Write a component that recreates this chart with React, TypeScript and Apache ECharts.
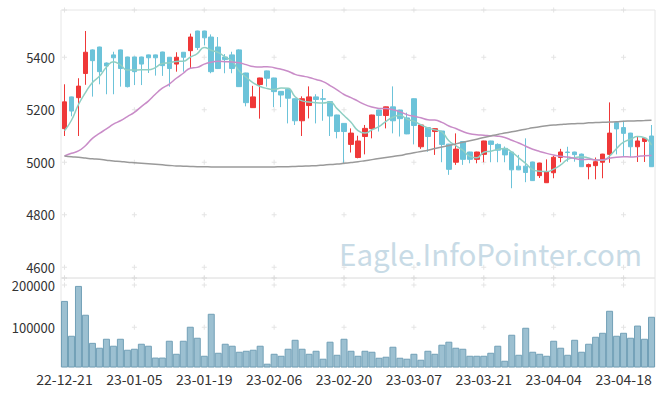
import React, { useEffect, useRef } from "react";
import * as echarts from "echarts";

const FONT = "'Noto Sans CJK KR', 'Noto Sans', sans-serif";

const dates = [
  "22-12-21", "22-12-22", "22-12-23", "22-12-26", "22-12-27", "22-12-28", "22-12-29", "23-01-02", "23-01-03", "23-01-04",
  "23-01-05", "23-01-06", "23-01-09", "23-01-10", "23-01-11", "23-01-12", "23-01-13", "23-01-16", "23-01-17", "23-01-18",
  "23-01-19", "23-01-20", "23-01-25", "23-01-26", "23-01-27", "23-01-30", "23-01-31", "23-02-01", "23-02-02", "23-02-03",
  "23-02-06", "23-02-07", "23-02-08", "23-02-09", "23-02-10", "23-02-13", "23-02-14", "23-02-15", "23-02-16", "23-02-17",
  "23-02-20", "23-02-21", "23-02-22", "23-02-23", "23-02-24", "23-02-27", "23-02-28", "23-03-02", "23-03-03", "23-03-06",
  "23-03-07", "23-03-08", "23-03-09", "23-03-10", "23-03-13", "23-03-14", "23-03-15", "23-03-16", "23-03-17", "23-03-20",
  "23-03-21", "23-03-22", "23-03-23", "23-03-24", "23-03-27", "23-03-28", "23-03-29", "23-03-30", "23-03-31", "23-04-03",
  "23-04-04", "23-04-05", "23-04-06", "23-04-07", "23-04-10", "23-04-11", "23-04-12", "23-04-13", "23-04-14", "23-04-17",
  "23-04-18", "23-04-19", "23-04-20", "23-04-21", "23-04-24",
];

const opens = [
  5128, 5249, 5246, 5338, 5428, 5439, 5378, 5409, 5428, 5401,
  5401, 5401, 5409, 5409, 5420, 5400, 5374, 5419, 5425, 5500,
  5500, 5477, 5439, 5401, 5409, 5428, 5340, 5208, 5296, 5348,
  5321, 5270, 5278, 5242, 5158, 5216, 5249, 5242, 5231, 5180,
  5148, 5068, 5018, 5098, 5128, 5199, 5178, 5211, 5199, 5169,
  5242, 5059, 5132, 5117, 5119, 5069, 5000, 5079, 5039, 5011,
  5030, 5081, 5068, 5053, 5039, 4985, 4985, 5001, 4949, 4922,
  4960, 5018, 5039, 5039, 5031, 4983, 4987, 5000, 5030, 5151,
  5132, 5111, 5059, 5079, 5100,
];
const closes = [
  5230, 5195, 5290, 5419, 5387, 5345, 5367, 5398, 5357, 5288,
  5345, 5374, 5398, 5398, 5368, 5357, 5400, 5400, 5477, 5437,
  5474, 5345, 5357, 5391, 5357, 5288, 5227, 5249, 5321, 5320,
  5269, 5256, 5244, 5158, 5242, 5249, 5239, 5240, 5176, 5117,
  5117, 5111, 5081, 5129, 5180, 5178, 5211, 5158, 5166, 5108,
  5140, 5142, 5098, 5128, 5068, 4973, 5050, 5011, 5011, 5039,
  5081, 5068, 5046, 5028, 4971, 4971, 4961, 4930, 4997, 4963,
  5019, 5039, 5037, 5029, 4983, 4991, 5002, 5031, 5111, 5127,
  5110, 5059, 5081, 5091, 4983,
];
const lows = [
  5100, 5175, 5100, 5295, 5250, 5297, 5259, 5259, 5288, 5285,
  5294, 5294, 5340, 5330, 5329, 5288, 5345, 5345, 5358, 5428,
  5445, 5339, 5355, 5339, 5339, 5287, 5213, 5207, 5166, 5288,
  5210, 5210, 5148, 5142, 5100, 5167, 5148, 5158, 5100, 5091,
  4997, 5037, 5015, 5030, 5091, 5117, 5129, 5110, 5098, 5107,
  5068, 5051, 5040, 5028, 5000, 4952, 4990, 4990, 4996, 4996,
  5000, 5000, 5000, 5000, 4901, 4970, 4924, 4929, 4940, 4921,
  4939, 5000, 5002, 5002, 4982, 4935, 4935, 4939, 4998, 5030,
  5020, 5020, 5001, 5001, 4982,
];
const highs = [
  5297, 5250, 5320, 5500, 5430, 5440, 5380, 5421, 5429, 5402,
  5402, 5402, 5410, 5410, 5421, 5401, 5419, 5420, 5490, 5501,
  5501, 5487, 5477, 5412, 5421, 5430, 5341, 5291, 5322, 5349,
  5322, 5271, 5279, 5243, 5251, 5289, 5259, 5279, 5232, 5181,
  5149, 5129, 5101, 5142, 5181, 5200, 5212, 5289, 5200, 5189,
  5243, 5143, 5133, 5129, 5120, 5070, 5110, 5080, 5040, 5040,
  5082, 5082, 5072, 5060, 5040, 5028, 5091, 5002, 4998, 5011,
  5025, 5051, 5059, 5040, 5033, 4995, 5018, 5032, 5228, 5152,
  5158, 5112, 5098, 5094, 5142,
];
const volumes = [
  162500, 80100, 198000, 129800, 63300, 51800, 73000, 56500, 73000, 47000,
  49400, 61200, 56500, 28500, 28500, 68300, 37500, 68300, 101400, 75400,
  32800, 132100, 39900, 61200, 56500, 42300, 44600, 47000, 56500, 14000,
  37500, 32800, 49400, 70600, 49400, 37500, 44600, 25800, 66000, 35100,
  73000, 44600, 32800, 44600, 42300, 28100, 30500, 54100, 28100, 25800,
  37500, 23400, 44600, 37500, 58900, 66000, 51800, 49400, 32800, 32800,
  32800, 39900, 56500, 21000, 82500, 35100, 99000, 42300, 37500, 32800,
  68300, 51800, 35100, 70600, 42300, 61200, 77700, 87100, 139200, 80100,
  87100, 75400, 104200, 73000, 125000,
];

// Moving-average values read from the picture where earlier data is not shown
const ma5Lead = [5120, 5160, 5220, 5265];
const ma20Lead = [
  5024, 5034, 5043, 5063, 5091, 5110, 5127, 5145, 5158, 5174,
  5190, 5212, 5233, 5259, 5282, 5298, 5320, 5339, 5358,
];
const ma120 = [
  5024, 5021, 5019, 5016, 5013, 5011, 5008, 5005, 5003, 5000,
  4998, 4996, 4994, 4992, 4990, 4988, 4986, 4985, 4984, 4983,
  4983, 4982, 4982, 4982, 4982, 4982, 4982, 4982, 4982, 4982,
  4982, 4983, 4983, 4984, 4985, 4986, 4987, 4989, 4991, 4993,
  4996, 4999, 5002, 5006, 5010, 5014, 5018, 5022, 5026, 5031,
  5036, 5041, 5046, 5052, 5058, 5064, 5070, 5076, 5082, 5088,
  5094, 5100, 5106, 5111, 5116, 5121, 5126, 5131, 5135, 5139,
  5142, 5144, 5146, 5147, 5148, 5150, 5151, 5152, 5153, 5154,
  5156, 5157, 5158, 5159, 5160,
];

const priceMin = 4559;
const priceMax = 5580;
const priceTicks = [4559, 4600, 4800, 5000, 5200, 5400, 5580];
const volMin = 6200;
const volMax = 216700;
const volTicks = [100000, 200000, 216700];
const labelStep = 10;

function movingAverage(period: number, lead: number[]) {
  return closes.map((_, i) => {
    if (i < lead.length) return lead[i];
    let s = 0;
    for (let k = i - period + 1; k <= i; k++) s += closes[k];
    return Math.round((s / period) * 10) / 10;
  });
}

const PLUS = "path://M2,0H3V2H5V3H3V5H2V3H0V2H2Z";

export default function App() {
  const ref = useRef<HTMLDivElement>(null);
  useEffect(() => {
    document.body.style.margin = "0";
    if (!ref.current) return;
    const chart = echarts.init(ref.current, undefined, { renderer: "svg" });
    const candles = dates.map((_, i) => [opens[i], closes[i], lows[i], highs[i]]);
    const tickIdx = dates.map((_, i) => i).filter((i) => i % labelStep === 0);
    const crossMain: number[][] = [];
    const crossVol: number[][] = [];
    tickIdx.forEach((i) => {
      priceTicks.forEach((v) => crossMain.push([i, v]));
      volTicks.forEach((v) => crossVol.push([i, v]));
    });
    const noLine = { show: false };
    const lbl = { color: "#333", fontSize: 13, fontFamily: FONT, lineHeight: 14 };
    chart.setOption({
      animation: false,
      backgroundColor: "#ffffff",
      textStyle: { fontFamily: FONT },
      grid: [
        { left: 61, right: 10, top: 10, height: 268, show: true, borderColor: "#e6e6e6", borderWidth: 1 },
        { left: 61, right: 10, top: 278, height: 89, show: true, borderColor: "#e6e6e6", borderWidth: 1 },
      ],
      graphic: [
        {
          type: "text",
          left: 339,
          top: 238,
          z: 0,
          silent: true,
          style: { text: "Eagle.InfoPointer.com", fontSize: 29.5, fontFamily: FONT, fill: "#c8dbe6" },
        },
      ],
      xAxis: [
        {
          type: "category", gridIndex: 0, data: dates, boundaryGap: true,
          axisLine: noLine, axisTick: noLine, axisLabel: { show: false }, splitLine: noLine,
        },
        {
          type: "category", gridIndex: 1, data: dates, boundaryGap: true,
          axisLine: noLine, axisTick: noLine, splitLine: noLine,
          axisLabel: { ...lbl, fontSize: 14, lineHeight: 16, interval: labelStep - 1, margin: 4 },
        },
      ],
      yAxis: [
        {
          type: "value", gridIndex: 0, min: priceMin, max: priceMax, splitNumber: 5,
          minInterval: 200, maxInterval: 200,
          axisLine: noLine, axisTick: noLine, splitLine: noLine,
          axisLabel: { ...lbl, margin: 6, showMinLabel: false, showMaxLabel: false, formatter: (v: number) => String(v) },
        },
        {
          type: "value", gridIndex: 1, min: volMin, max: volMax, splitNumber: 2,
          minInterval: 100000, maxInterval: 100000,
          axisLine: noLine, axisTick: noLine, splitLine: noLine,
          axisLabel: { ...lbl, margin: 6, showMinLabel: false, showMaxLabel: false, formatter: (v: number) => String(v) },
        },
      ],
      series: [
        {
          type: "scatter", xAxisIndex: 0, yAxisIndex: 0, data: crossMain, symbol: PLUS, symbolSize: 5,
          itemStyle: { color: "#dddddd" }, silent: true, z: 1, clip: false,
        },
        {
          type: "scatter", xAxisIndex: 1, yAxisIndex: 1, data: crossVol, symbol: PLUS, symbolSize: 5,
          itemStyle: { color: "#dddddd" }, silent: true, z: 1, clip: false,
        },
        {
          type: "candlestick", xAxisIndex: 0, yAxisIndex: 0, data: candles, barWidth: 5, z: 3,
          itemStyle: { color: "#ef3838", color0: "#6cc3d9", borderColor: "#ef3838", borderColor0: "#6cc3d9", borderWidth: 1 },
        },
        {
          type: "line", xAxisIndex: 0, yAxisIndex: 0, data: movingAverage(5, ma5Lead), smooth: true,
          symbol: "none", lineStyle: { color: "#8fcfc3", width: 1.5 }, z: 4,
        },
        {
          type: "line", xAxisIndex: 0, yAxisIndex: 0, data: movingAverage(20, ma20Lead), smooth: true,
          symbol: "none", lineStyle: { color: "#c98cc8", width: 1.5 }, z: 4,
        },
        {
          type: "line", xAxisIndex: 0, yAxisIndex: 0, data: ma120, smooth: true,
          symbol: "none", lineStyle: { color: "#9a9a9a", width: 1.5 }, z: 4,
        },
        {
          type: "bar", xAxisIndex: 1, yAxisIndex: 1, data: volumes, barCategoryGap: "0%",
          itemStyle: { color: "#9cc0d1", borderColor: "#72a0b7", borderWidth: 1 }, z: 3,
        },
      ],
    });
    return () => chart.dispose();
  }, []);
  return <div ref={ref} style={{ width: 665, height: 396 }} />;
}
